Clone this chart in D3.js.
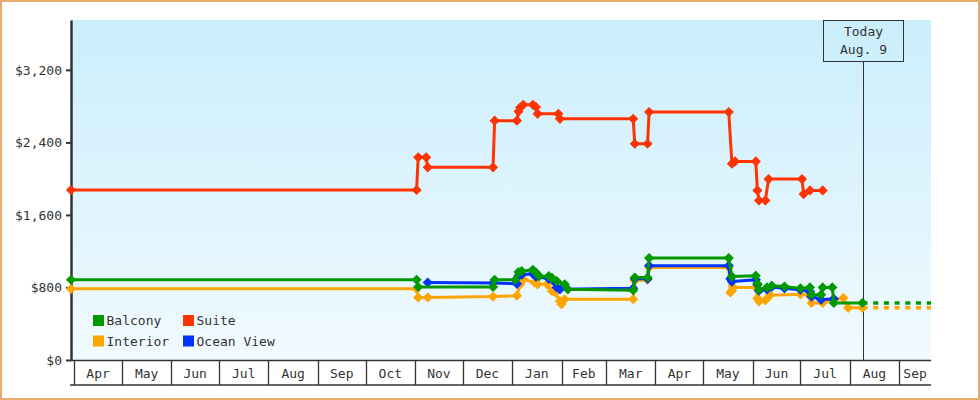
<!DOCTYPE html>
<html>
<head>
<meta charset="utf-8">
<script src="https://cdn.jsdelivr.net/npm/d3@7"></script>
<style>
body { margin: 0; background: #fff; }
text { font-family: "DejaVu Sans Mono", monospace; font-size: 13px; fill: #333; }
</style>
</head>
<body>
<div id="chart"></div>
<script>

// price observations per cabin type (date, price in $)
var suiteDates = ["2012-03-30","2012-11-02","2012-11-03","2012-11-08","2012-11-09","2012-12-20","2012-12-21","2013-01-04","2013-01-05","2013-01-06","2013-01-08","2013-01-14","2013-01-16","2013-01-17","2013-01-30","2013-01-31","2013-03-18","2013-03-19","2013-03-27","2013-03-28","2013-05-17","2013-05-19","2013-05-21","2013-06-03","2013-06-04","2013-06-05","2013-06-09","2013-06-11","2013-07-02","2013-07-03","2013-07-07","2013-07-15"];
var suitePrices = [1875,1875,2235,2235,2125,2125,2640,2640,2740,2785,2815,2815,2790,2715,2715,2660,2660,2385,2385,2735,2735,2165,2190,2190,1870,1760,1760,1995,1995,1830,1870,1870];

var interiorDates = ["2012-03-30","2012-11-02","2012-11-03","2012-11-09","2012-12-20","2013-01-04","2013-01-06","2013-01-08","2013-01-15","2013-01-17","2013-01-23","2013-01-26","2013-01-28","2013-01-31","2013-02-01","2013-02-03","2013-03-18","2013-03-19","2013-03-27","2013-03-28","2013-05-17","2013-05-18","2013-05-19","2013-05-20","2013-06-03","2013-06-04","2013-06-05","2013-06-09","2013-06-12","2013-07-01","2013-07-06","2013-07-08","2013-07-15","2013-07-21","2013-07-28","2013-07-31","2013-08-09"];
var interiorPrices = [785,785,690,690,700,710,835,890,855,835,835,760,745,650,615,670,670,875,885,1020,1020,745,765,800,800,680,645,660,715,725,720,630,630,655,685,575,575];

var oceanDates = ["2012-11-09","2012-12-20","2013-01-04","2013-01-05","2013-01-07","2013-01-14","2013-01-16","2013-01-24","2013-01-29","2013-01-31","2013-03-18","2013-03-19","2013-03-27","2013-03-28","2013-05-17","2013-05-18","2013-05-19","2013-06-03","2013-06-04","2013-06-05","2013-06-10","2013-06-13","2013-06-21","2013-07-01","2013-07-07","2013-07-08","2013-07-14","2013-07-22"];
var oceanPrices = [855,850,840,930,940,950,920,895,800,780,790,895,895,1040,1040,895,865,885,830,765,780,805,790,775,755,700,665,675];

var balconyDates = ["2012-03-30","2012-11-02","2012-11-03","2012-12-20","2012-12-21","2013-01-03","2013-01-05","2013-01-07","2013-01-14","2013-01-16","2013-01-18","2013-01-24","2013-01-26","2013-01-29","2013-02-03","2013-02-05","2013-03-18","2013-03-19","2013-03-27","2013-03-28","2013-05-17","2013-05-19","2013-06-03","2013-06-04","2013-06-05","2013-06-10","2013-06-13","2013-06-21","2013-07-01","2013-07-07","2013-07-08","2013-07-14","2013-07-15","2013-07-21","2013-07-22","2013-08-09"];
var balconyPrices = [885,885,805,805,885,885,970,980,995,965,925,925,905,870,835,780,770,910,910,1125,1125,920,930,840,775,800,820,810,790,800,720,720,800,800,630,630];

var legendNames = ["Balcony","Suite","Interior","Ocean View"];
var yTicks = [0, 800, 1600, 2400, 3200];
var startDate = "2012-03-30", endDate = "2013-09-21", todayDate = "2013-08-09";
var todayLabel = ["Today", "Aug. 9"];

var colors = {"Balcony": "#009900", "Suite": "#ff3300", "Interior": "#ffa500", "Ocean View": "#0033ff"};

const width = 980, height = 400;
const margin = {top: 20, right: 49, bottom: 40, left: 71};

var parse = d3.timeParse("%Y-%m-%d");

function makeSeries(name, dates, prices, projected) {
  return {
    name: name,
    projected: projected,
    values: dates.map((d, i) => ({date: parse(d), price: prices[i]}))
  };
}

// draw order: suite, interior, ocean view, balcony on top
var series = [
  makeSeries("Suite", suiteDates, suitePrices, false),
  makeSeries("Interior", interiorDates, interiorPrices, true),
  makeSeries("Ocean View", oceanDates, oceanPrices, false),
  makeSeries("Balcony", balconyDates, balconyPrices, true)
];

var x = d3.scaleTime()
  .domain([parse(startDate), parse(endDate)])
  .range([margin.left, width - margin.right]);

var y = d3.scaleLinear()
  .domain([0, 3750])
  .range([height - margin.bottom, margin.top]);

var svg = d3.select("#chart")
  .append("svg")
  .attr("width", width)
  .attr("height", height);

var defs = svg.append("defs");
var grad = defs.append("linearGradient")
  .attr("id", "bg")
  .attr("x1", 0).attr("y1", 0).attr("x2", 0).attr("y2", 1);
grad.append("stop").attr("offset", "0%").attr("stop-color", "#caeefc");
grad.append("stop").attr("offset", "100%").attr("stop-color", "#f1faff");

// clip only on the right so the projections stop at the plot edge
defs.append("clipPath").attr("id", "plotclip")
  .append("rect")
  .attr("x", x.range()[0] - 10).attr("y", y.range()[1])
  .attr("width", x.range()[1] - x.range()[0] + 10)
  .attr("height", y.range()[0] - y.range()[1] + 6);

// outer border
svg.append("rect")
  .attr("x", 1).attr("y", 1)
  .attr("width", width - 2).attr("height", height - 2)
  .attr("fill", "#fff")
  .attr("stroke", "#e8ab6d")
  .attr("stroke-width", 2);

// plot background
svg.append("rect")
  .attr("x", x.range()[0]).attr("y", y.range()[1])
  .attr("width", x.range()[1] - x.range()[0])
  .attr("height", y.range()[0] - y.range()[1])
  .attr("fill", "url(#bg)");

// x axis: month cells
var months = d3.timeMonth.range(d3.timeMonth.ceil(x.domain()[0]), x.domain()[1]);
var axisTop = y.range()[0], axisBottom = axisTop + 25;

var xAxis = svg.append("g").attr("class", "x-axis");

xAxis.append("line")
  .attr("x1", x.range()[0] - 1).attr("x2", x.range()[1])
  .attr("y1", axisTop + 0.5).attr("y2", axisTop + 0.5)
  .attr("stroke", "#333").attr("stroke-width", 1.5);

xAxis.append("line")
  .attr("x1", x.range()[0] - 1).attr("x2", x.range()[1])
  .attr("y1", axisBottom).attr("y2", axisBottom)
  .attr("stroke", "#333").attr("stroke-width", 1.5);

xAxis.selectAll(".sep")
  .data(months)
  .enter()
  .append("line")
  .attr("class", "sep")
  .attr("x1", d => Math.round(x(d)) + 0.5)
  .attr("x2", d => Math.round(x(d)) + 0.5)
  .attr("y1", axisTop).attr("y2", axisBottom)
  .attr("stroke", "#333").attr("stroke-width", 1.3);

var fmtMonth = d3.timeFormat("%b");
xAxis.selectAll(".mlabel")
  .data(months)
  .enter()
  .append("text")
  .attr("class", "mlabel")
  .attr("text-anchor", "middle")
  .attr("x", d => {
    var next = d3.timeMonth.offset(d, 1);
    var e = next > x.domain()[1] ? x.domain()[1] : next;
    return (x(d) + x(e)) / 2;
  })
  .attr("y", axisTop + 18)
  .text(d => fmtMonth(d));

// y axis
var yAxis = svg.append("g")
  .attr("transform", "translate(" + x.range()[0] + ",0)")
  .call(d3.axisLeft(y)
    .tickValues(yTicks)
    .tickSize(5)
    .tickSizeOuter(0)
    .tickPadding(4)
    .tickFormat(d3.format("$,")));

yAxis.select(".domain").attr("stroke", "#333").attr("stroke-width", 2.5);
yAxis.selectAll(".tick line").attr("stroke", "#333").attr("stroke-width", 2);
yAxis.selectAll(".tick text")
  .style("font-family", "'DejaVu Sans Mono', monospace")
  .style("font-size", "13px")
  .attr("fill", "#333");

// today marker
var tx = Math.round(x(parse(todayDate))) + 0.5;
var boxW = 80, boxH = 41;
svg.append("line")
  .attr("x1", tx).attr("x2", tx)
  .attr("y1", margin.top + boxH).attr("y2", y.range()[0])
  .attr("stroke", "#333").attr("stroke-width", 1);

svg.append("rect")
  .attr("x", tx - boxW / 2).attr("y", margin.top + 0.5)
  .attr("width", boxW).attr("height", boxH)
  .attr("fill", "none")
  .attr("stroke", "#333").attr("stroke-width", 1);

svg.selectAll(".today")
  .data(todayLabel)
  .enter()
  .append("text")
  .attr("class", "today")
  .attr("text-anchor", "middle")
  .attr("x", tx)
  .attr("y", (d, i) => margin.top + 16 + i * 18)
  .text(d => d);

// series
var plot = svg.append("g").attr("clip-path", "url(#plotclip)");

var line = d3.line()
  .x(d => x(d.date))
  .y(d => y(d.price));

var marker = d3.symbol().type(d3.symbolSquare).size(52);

series.forEach(function(s) {
  var g = plot.append("g");
  var c = colors[s.name];

  if (s.projected) {
    var last = s.values[s.values.length - 1];
    g.append("path")
      .datum([last, {date: x.domain()[1], price: last.price}])
      .attr("d", line)
      .attr("fill", "none")
      .attr("stroke", c)
      .attr("stroke-width", 3.5)
      .attr("stroke-dasharray", "5,5.7");
  }

  g.append("path")
    .datum(s.values)
    .attr("d", line)
    .attr("fill", "none")
    .attr("stroke", c)
    .attr("stroke-width", 3)
    .attr("stroke-linejoin", "round");

  g.selectAll(".pt")
    .data(s.values)
    .enter()
    .append("path")
    .attr("class", "pt")
    .attr("d", marker)
    .attr("transform", d => "translate(" + x(d.date) + "," + y(d.price) + ") rotate(45)")
    .attr("fill", c);
});

// legend
var legend = svg.append("g")
  .attr("transform", "translate(93,315)");

var item = legend.selectAll(".item")
  .data(legendNames)
  .enter()
  .append("g")
  .attr("class", "item")
  .attr("transform", (d, i) => "translate(" + (i % 2) * 90 + "," + Math.floor(i / 2) * 20.5 + ")");

item.append("rect")
  .attr("width", 11).attr("height", 11)
  .attr("fill", d => colors[d]);

item.append("text")
  .attr("x", 13.5)
  .attr("y", 10)
  .text(d => d);

</script>
</body>
</html>
